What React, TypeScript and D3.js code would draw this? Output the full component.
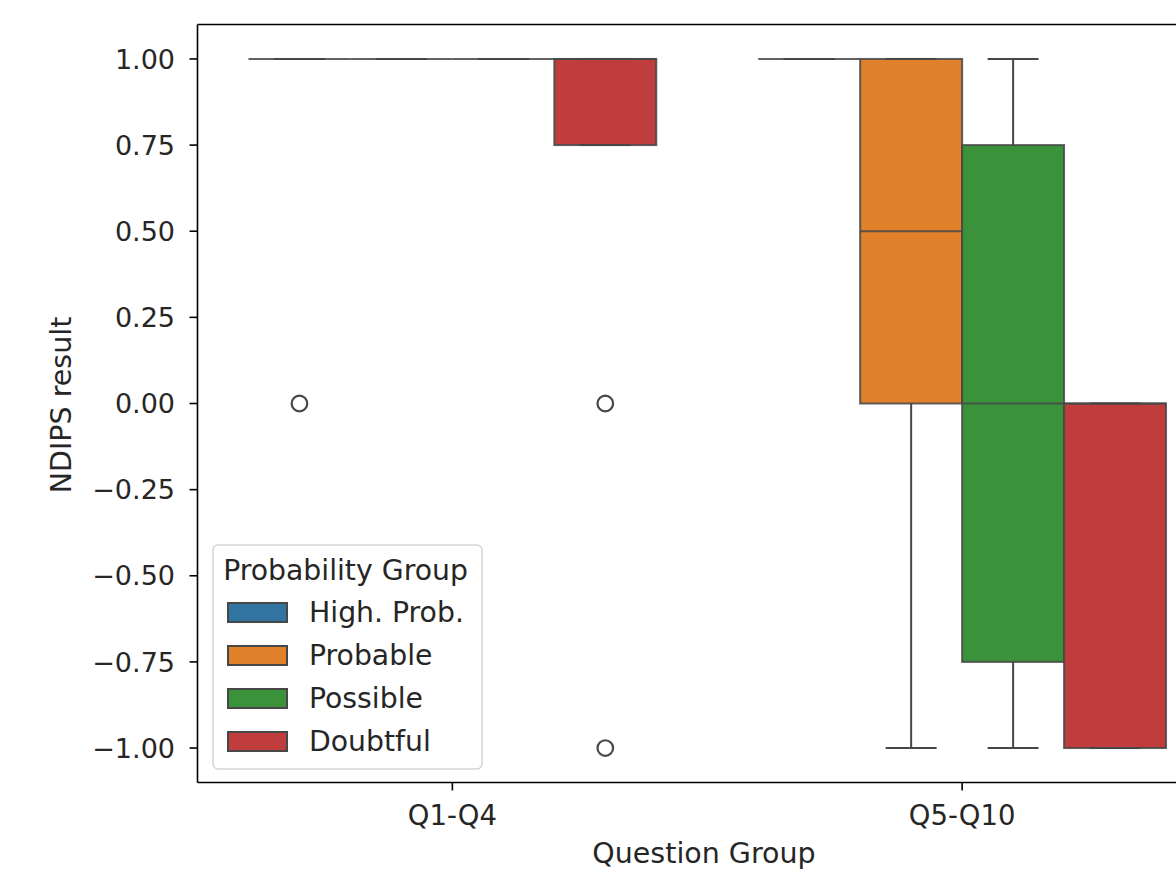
import React from "react";
import * as d3 from "d3";

const categories = ["Q1-Q4", "Q5-Q10"];
const hueGroups = ["High. Prob.", "Probable", "Possible", "Doubtful"];
const hueColors = ["#3274a1", "#e1812c", "#3a923a", "#c03d3e"];

// [lower whisker, q1, median, q3, upper whisker] per hue group
const statsQ1Q4 = [
  [1, 1, 1, 1, 1],
  [1, 1, 1, 1, 1],
  [1, 1, 1, 1, 1],
  [0.75, 0.75, 1, 1, 1],
];
const statsQ5Q10 = [
  [1, 1, 1, 1, 1],
  [-1, 0, 0.5, 1, 1],
  [-1, -0.75, 0, 0.75, 1],
  [-1, -1, 0, 0, 0],
];
const outliersQ1Q4 = [[0], [], [], [0, -1]];
const outliersQ5Q10 = [[], [], [], []];

const yTicks = [-1, -0.75, -0.5, -0.25, 0, 0.25, 0.5, 0.75, 1];

const W = 1176;
const H = 872;
const LEFT = 197.5;
const RIGHT = 1217;
const TOP = 24.5;
const BOTTOM = 782.5;
const LINE = "#474747";
const FONT = "DejaVu Sans, sans-serif";

export default function App() {
  const x = d3.scaleBand<string>().domain(categories).range([LEFT, RIGHT]).padding(0);
  const bw = x.bandwidth();
  const hueX = d3.scaleBand<string>().domain(hueGroups).range([-0.4 * bw, 0.4 * bw]).padding(0);
  const boxW = hueX.bandwidth();
  const y = d3.scaleLinear().domain([-1.1, 1.1]).range([BOTTOM, TOP]);
  const fmt = (v: number) => d3.format(".2f")(v).replace("-", "\u2212");

  const allStats = [statsQ1Q4, statsQ5Q10];
  const allOut = [outliersQ1Q4, outliersQ5Q10];

  const boxes: React.ReactNode[] = [];
  categories.forEach((cat, ci) => {
    hueGroups.forEach((hue, hi) => {
      const [wl, q1, med, q3, wh] = allStats[ci][hi];
      const cx = (x(cat) as number) + bw / 2 + (hueX(hue) as number) + boxW / 2;
      const x0 = cx - boxW / 2;
      const key = `${ci}-${hi}`;
      boxes.push(
        <g key={key}>
          <rect x={x0} y={y(q3)} width={boxW} height={Math.max(0, y(q1) - y(q3))} fill={hueColors[hi]} stroke={LINE} strokeWidth={2} strokeOpacity={0.85} />
          <line x1={cx} x2={cx} y1={y(q1)} y2={y(wl)} stroke={LINE} strokeWidth={2} />
          <line x1={cx} x2={cx} y1={y(q3)} y2={y(wh)} stroke={LINE} strokeWidth={2} />
          <line x1={cx - boxW / 4} x2={cx + boxW / 4} y1={y(wl)} y2={y(wl)} stroke={LINE} strokeWidth={2} />
          <line x1={cx - boxW / 4} x2={cx + boxW / 4} y1={y(wh)} y2={y(wh)} stroke={LINE} strokeWidth={2} />
          <line x1={x0} x2={x0 + boxW} y1={y(med)} y2={y(med)} stroke={LINE} strokeWidth={2} strokeOpacity={0.85} />
          {allOut[ci][hi].map((v, oi) => (
            <circle key={oi} cx={cx} cy={y(v)} r={7.8} fill="none" stroke={LINE} strokeWidth={2.2} />
          ))}
        </g>
      );
    });
  });

  const legendRows = hueGroups.map((h, i) => ({ h, c: hueColors[i], cy: 612.5 + i * 43 }));

  return (
    <div style={{ position: "absolute", left: 0, top: 0 }}>
      <svg width={W} height={H} style={{ display: "block", background: "#fff" }}>
        <rect x={0} y={0} width={W} height={H} fill="#fff" />
        {boxes}
        {/* spines */}
        <line x1={LEFT} x2={LEFT} y1={TOP} y2={BOTTOM} stroke="#000" strokeWidth={1.6} />
        <line x1={LEFT} x2={RIGHT} y1={TOP} y2={TOP} stroke="#000" strokeWidth={1.6} />
        <line x1={LEFT} x2={RIGHT} y1={BOTTOM} y2={BOTTOM} stroke="#000" strokeWidth={1.6} />
        {/* y ticks */}
        {yTicks.map((t) => (
          <g key={t}>
            <line x1={LEFT - 8} x2={LEFT} y1={y(t)} y2={y(t)} stroke="#000" strokeWidth={1.6} />
            <text x={175} y={y(t)} dy="0.36em" textAnchor="end" fontFamily={FONT} fontSize={27} fill="#262626">
              {fmt(t)}
            </text>
          </g>
        ))}
        {/* x ticks */}
        {categories.map((c) => {
          const cx = (x(c) as number) + bw / 2;
          return (
            <g key={c}>
              <line x1={cx} x2={cx} y1={BOTTOM} y2={BOTTOM + 8} stroke="#000" strokeWidth={1.6} />
              <text x={cx} y={825} textAnchor="middle" fontFamily={FONT} fontSize={27.5} fill="#262626">
                {c}
              </text>
            </g>
          );
        })}
        <text x={704} y={863} textAnchor="middle" fontFamily={FONT} fontSize={28.5} fill="#262626">
          Question Group
        </text>
        <text transform={`translate(71,405) rotate(-90)`} textAnchor="middle" fontFamily={FONT} fontSize={28.5} fill="#262626">
          NDIPS result
        </text>
        {/* legend */}
        <rect x={213} y={545} width={269} height={224} rx={5} fill="#fff" fillOpacity={0.8} stroke="#d6d6d6" strokeWidth={1.6} />
        <text x={345.5} y={580} textAnchor="middle" fontFamily={FONT} fontSize={28.3} fill="#262626">
          Probability Group
        </text>
        {legendRows.map((r) => (
          <g key={r.h}>
            <rect x={228} y={r.cy - 9.5} width={59} height={19} fill={r.c} stroke={LINE} strokeWidth={2} />
            <text x={309} y={r.cy + 9.5} fontFamily={FONT} fontSize={28.3} fill="#262626">
              {r.h}
            </text>
          </g>
        ))}
      </svg>
    </div>
  );
}
